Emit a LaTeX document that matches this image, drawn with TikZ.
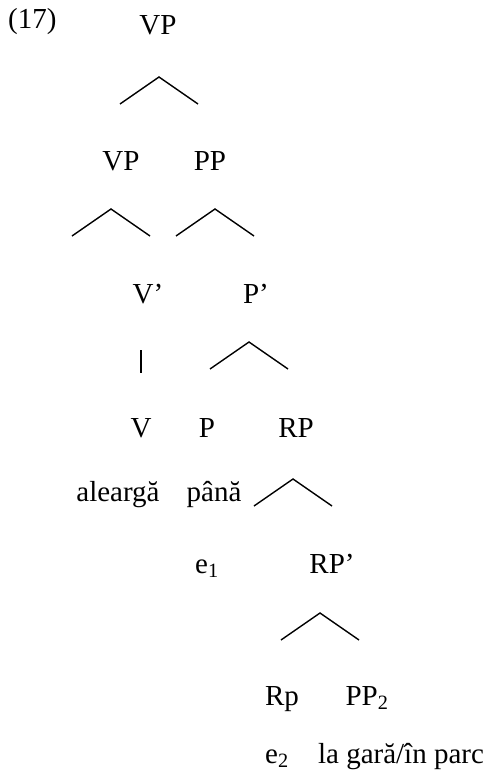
\documentclass[tikz,border=0pt]{standalone}
\usepackage{fontspec}
\setmainfont{Liberation Serif}
\begin{document}
\begin{tikzpicture}[x=1pt, y=-1pt,
    lab/.style={anchor=base, inner sep=0pt, font=\fontsize{29}{34}\selectfont},
    caret/.pic={\draw[line width=1.4pt] (-39,27) -- (0,0) -- (39,27);}]
    \useasboundingbox[fill=white] (0,0) rectangle (486,776);
    \node[lab, anchor=base west] (num) at (8,29) {(17)};
    % labels
    \node[lab] (vp) at (158,35) {VP};
    \node[lab] (vpa) at (121,170) {VP};
    \node[lab] (pp) at (210,170) {PP};
    \node[lab] (vbar) at (148,303) {V’};
    \node[lab] (pbar) at (256,303) {P’};
    \node[lab] (v) at (141,437) {V};
    \node[lab] (p) at (207,437) {P};
    \node[lab] (rp) at (296,437) {RP};
    \node[lab] (alearga) at (118,501) {aleargă};
    \node[lab] (pana) at (214,501) {până};
    \node[lab] (ea) at (207,573) {e\textsubscript{1}};
    \node[lab] (rpbar) at (332,573) {RP’};
    \node[lab] (rhead) at (282,705) {Rp};
    \node[lab] (ppb) at (367,705) {PP\textsubscript{2}};
    \node[lab] (eb) at (277,763) {e\textsubscript{2}};
    \node[lab] (gara) at (401,763) {la gară/în parc};
    % branches
    \coordinate (c1) at (159,77);
    \coordinate (c2) at (111,209);
    \coordinate (c3) at (215,209);
    \coordinate (c4) at (249,342);
    \coordinate (c5) at (293,479);
    \coordinate (c6) at (320,613);
    \foreach \c in {c1,c2,c3,c4,c5,c6}
        \pic at (\c) {caret};
    \coordinate (b1) at (141,350);
    \coordinate (b2) at (141,373);
    \draw[line width=1.6pt] (b1) -- (b2);
\end{tikzpicture}
\end{document}
